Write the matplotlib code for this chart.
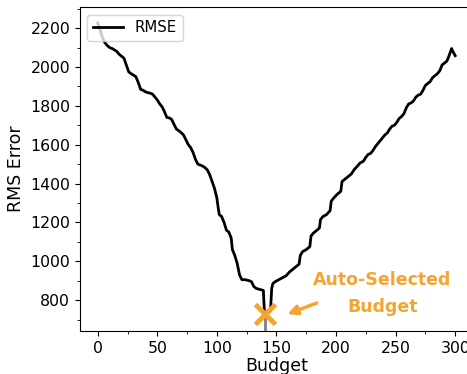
import numpy as np
import matplotlib
matplotlib.use("Agg")
import matplotlib.pyplot as plt
from matplotlib.ticker import MultipleLocator

# valores
budget = [0, 2, 4, 6, 8, 10, 12, 14, 16, 18, 20, 22, 24, 26, 28, 30, 32, 34, 36, 38,
          40, 42, 44, 46, 48, 50, 52, 54, 56, 58, 60, 62, 64, 66, 68, 70, 72, 74, 76, 78,
          80, 82, 84, 86, 88, 90, 92, 94, 96, 98, 100, 101, 102, 104, 106, 108, 110, 112,
          113, 115, 117, 119, 121, 124, 127, 129, 131, 133, 136, 139, 139.5, 140, 141, 143,
          145, 146, 147, 149, 152, 155, 158, 161, 164, 167, 169, 170, 172, 175, 178, 179,
          181, 184, 186, 187, 189, 192, 195, 196, 198, 201, 204, 205, 207, 210, 213, 215,
          218, 220, 223, 225, 227, 229, 231, 233, 235, 237, 239, 241, 243, 245, 247, 249,
          251, 253, 255, 257, 259, 261, 263, 265, 267, 269, 271, 273, 275, 277, 279, 281,
          283, 285, 287, 289, 291, 293, 295, 297, 298, 300]
rmse = [2226, 2190, 2150, 2125, 2110, 2100, 2095, 2088, 2080, 2065, 2055, 2045, 2010, 1975,
        1965, 1958, 1950, 1920, 1885, 1880, 1872, 1868, 1865, 1860, 1845, 1830, 1810, 1795,
        1770, 1740, 1738, 1730, 1705, 1680, 1672, 1662, 1650, 1625, 1600, 1585, 1560, 1525,
        1500, 1495, 1490, 1482, 1470, 1445, 1410, 1375, 1325, 1280, 1240, 1230, 1200, 1160,
        1150, 1120, 1060, 1030, 990, 930, 905, 905, 900, 895, 870, 860, 855, 850, 780, 722,
        730, 735, 745, 860, 885, 895, 905, 915, 925, 945, 960, 975, 985, 1030, 1050, 1060,
        1075, 1130, 1145, 1160, 1170, 1215, 1230, 1240, 1260, 1310, 1325, 1345, 1360, 1410,
        1420, 1435, 1450, 1470, 1490, 1505, 1515, 1535, 1550, 1555, 1570, 1590, 1605, 1620,
        1635, 1650, 1660, 1680, 1695, 1700, 1715, 1735, 1745, 1760, 1790, 1810, 1815, 1825,
        1845, 1855, 1860, 1880, 1905, 1915, 1925, 1945, 1955, 1965, 1980, 2010, 2020, 2030,
        2060, 2095, 2080, 2058]

best_budget = 140
best_rmse = 730
naranja = '#F4A433'

fig = plt.figure(figsize=(4.67, 3.74), dpi=100)
ax = fig.add_axes([0.171, 0.115, 0.842, 0.866])

ax.vlines(best_budget, 641, min(rmse), color='gray', lw=2)
ax.plot(budget, rmse, color='black', lw=2.0, label='RMSE')
ax.plot(best_budget, best_rmse, 'x', color=naranja, ms=14, mew=3.5)

ax.text(239, 903, 'Auto-Selected', color=naranja, fontsize=12.5,
        fontweight='bold', ha='center', va='center')
ax.text(239, 765, 'Budget', color=naranja, fontsize=12.5,
        fontweight='bold', ha='center', va='center')
ax.annotate('', xy=(157, 723), xytext=(186, 790),
            arrowprops=dict(arrowstyle='-|>', color=naranja, lw=2.5,
                            mutation_scale=14))

ax.set_xlim(-15, 315)
ax.set_ylim(641, 2308)
ax.xaxis.set_major_locator(MultipleLocator(50))
ax.xaxis.set_minor_locator(MultipleLocator(25))
ax.yaxis.set_major_locator(MultipleLocator(200))
ax.yaxis.set_minor_locator(MultipleLocator(100))
ax.tick_params(labelsize=11.3)
ax.set_xlabel('Budget', fontsize=12.5, labelpad=1)
ax.set_ylabel('RMS Error', fontsize=12.5)
ax.legend(loc='upper left', fontsize=10.7)

fig.savefig('out.png', dpi=100)
